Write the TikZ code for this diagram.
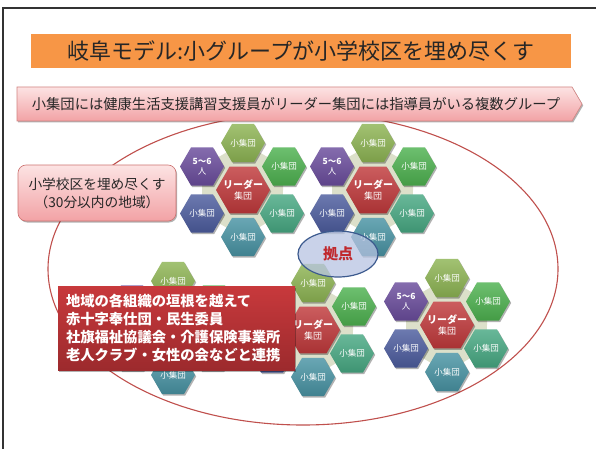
\documentclass[tikz,border=0pt]{standalone}
\usepackage{fontspec}
\setmainfont{Noto Sans CJK JP}
\usetikzlibrary{shapes.geometric,shadows,calc}
\definecolor{hexolive}{HTML}{8DB453}
\definecolor{hexgreen}{HTML}{4DB14F}
\definecolor{hexteal}{HTML}{47A882}
\definecolor{hexcyan}{HTML}{4893A3}
\definecolor{hexblue}{HTML}{4C5C9E}
\definecolor{hexpurple}{HTML}{6A4C9C}
\definecolor{hexred}{HTML}{C0393B}
\definecolor{hexgap}{HTML}{DCE0CA}
\definecolor{titleorange}{HTML}{F79646}
\definecolor{ellred}{HTML}{C0504D}
\definecolor{pinktop}{HTML}{FCE3E3}
\definecolor{pinkbot}{HTML}{F2A2A5}
\definecolor{boxredtop}{HTML}{C8393C}
\definecolor{boxredbot}{HTML}{9C2A2D}
\definecolor{kyofill}{HTML}{B7C4E2}
\definecolor{kyoline}{HTML}{3C5A8E}
\definecolor{kyotext}{HTML}{C0282D}
\tikzset{
  softshadow/.style={drop shadow={shadow xshift=1.2pt,shadow yshift=-1.5pt,fill=black,opacity=0.3}},
  hx/.style={top color=#1!82!white,bottom color=#1!88!black,softshadow},
  hextext/.style={inner sep=0pt,text=white,font=\fontsize{8.5}{10.5}\selectfont,align=center},
  titlebox/.style={draw=white,line width=1.8pt,fill=titleorange,minimum width=542pt,minimum height=36pt,
    font=\fontsize{22}{24}\selectfont,text=black!85,softshadow},
  subarrow/.style={draw=ellred!70,line width=0.6pt,top color=pinktop,bottom color=pinkbot,softshadow},
  callout/.style={draw=ellred!80,line width=0.6pt,rounded corners=8pt,top color=pinktop,bottom color=pinkbot,
    minimum width=158pt,minimum height=56pt,align=center,font=\fontsize{13.7}{18}\selectfont,text=black!85,softshadow},
  netbox/.style={top color=boxredtop,bottom color=boxredbot,minimum width=237pt,minimum height=84pt,
    text width=221pt,align=left,inner xsep=8pt,text=white,font=\fontsize{14.3}{17.7}\selectfont\bfseries,softshadow},
  bigell/.style={draw=ellred,line width=1.1pt},
  kyoten/.style={ellipse,draw=kyoline,line width=1.2pt,fill=kyofill,fill opacity=0.75,text opacity=1,
    minimum width=80pt,minimum height=46pt,text=kyotext,font=\fontsize{15}{16}\selectfont\bfseries},
}
% name, centre coordinate, radius, colour, text
\newcommand\hexat[5]{%
  \path[hx=#4,shift={#2}] (0:#3) -- (60:#3) -- (120:#3) -- (180:#3) -- (240:#3) -- (300:#3) -- cycle;
  \node[hextext] (#1) at #2 {#5};
}
% name, x, y, upper-left, lower-left, centre, lower-right, upper-right texts
\newcommand\hexcluster[8]{%
  \coordinate (#1) at (#2,#3);
  \fill[hexgap] ($(#1)+(0,-47)$) -- ($(#1)+(41,-23.5)$) -- ($(#1)+(39,23.5)$) -- ($(#1)+(0,47)$)
     -- ($(#1)+(-41,23.5)$) -- ($(#1)+(-41,-23.5)$) -- cycle;
  \hexat{#1t}{($(#1)+(0,-47)$)}{22}{hexolive}{小集団}
  \hexat{#1ur}{($(#1)+(41,-23.5)$)}{22}{hexgreen}{#8}
  \hexat{#1lr}{($(#1)+(39,23.5)$)}{22}{hexteal}{#7}
  \hexat{#1b}{($(#1)+(0,47)$)}{22}{hexcyan}{小集団}
  \hexat{#1ll}{($(#1)+(-41,23.5)$)}{22}{hexblue}{#5}
  \hexat{#1ul}{($(#1)+(-41,-23.5)$)}{22}{hexpurple}{#4}
  \hexat{#1c}{(#1)}{27}{hexred}{#6}
}
\newcommand\leadtext{{\fontsize{10}{14}\selectfont\bfseries リーダー}\\{\fontsize{9}{12}\selectfont 集団}}
\newcommand\ppl{{\bfseries 5～6}\\人}
\begin{document}
\begin{tikzpicture}[x=1pt,y=-1pt]
\useasboundingbox (0,0) rectangle (596,449);
\fill[white] (0,0) rectangle (596,449);
\draw[black!80,line width=1.3pt] (3,449) -- (3,8) -- (596,8);
\draw[bigell] (303,269) ellipse [x radius=255,y radius=156];
\node[titlebox] (title) at (301,51) {岐阜モデル:小グループが小学校区を埋め尽くす};
\path[subarrow] (17,87) -- (572,87) -- (582,104) -- (572,121) -- (17,121) -- cycle;
\node[font=\fontsize{14.3}{16}\selectfont,text=black!85] (sub) at (296,104)
  {小集団には健康生活支援講習支援員がリーダー集団には指導員がいる複数グループ};
\hexcluster{ca}{243}{190}{\ppl}{小集団}{\leadtext}{小集団}{小集団}
\hexcluster{cb}{373}{190}{\ppl}{小集団}{\leadtext}{小集団}{小集団}
\hexcluster{cc}{173}{328}{}{}{}{}{}
\hexcluster{cd}{313}{330}{}{}{\leadtext}{小集団}{小集団}
\hexcluster{ce}{447}{325}{\ppl}{小集団}{\leadtext}{小集団}{小集団}
\node[kyoten] (base) at (338,254) {拠点};
\node[callout] (area) at (97,193) {小学校区を埋め尽くす\\（30分以内の地域）};
\node[netbox] (net) at (176.5,328) {地域の各組織の垣根を越えて\\赤十字奉仕団・民生委員\\社旗福祉協議会・介護保険事業所\\老人クラブ・女性の会などと連携};
\end{tikzpicture}
\end{document}
